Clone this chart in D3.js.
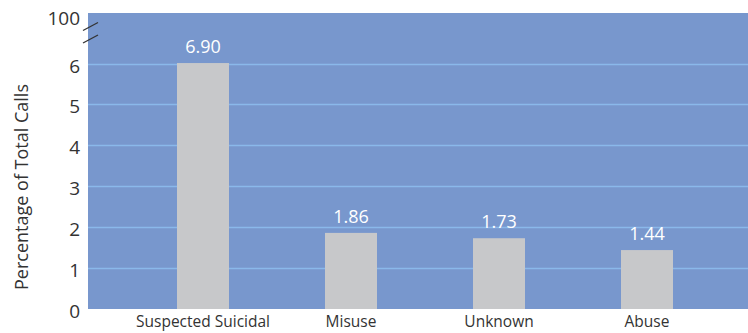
<!DOCTYPE html>
<html>
<head>
<meta charset="utf-8">
<script src="https://cdn.jsdelivr.net/npm/d3@7"></script>
<style>
  html, body { margin: 0; padding: 0; background: #fff; }
  svg { display: block; }
</style>
</head>
<body>
<svg id="chart" width="748" height="333"></svg>
<script>
// Share of total calls by call reason (percent)
const categories = ["Suspected Suicidal", "Misuse", "Unknown", "Abuse"];
const values = [6.90, 1.86, 1.73, 1.44];
const valueLabels = ["6.90", "1.86", "1.73", "1.44"];
const tickValues = [0, 1, 2, 3, 4, 5, 6, 100];
const yTitle = "Percentage of Total Calls";

const FONT = "'Open Sans', 'Noto Sans', sans-serif";
const svg = d3.select("#chart").attr("font-family", FONT);
const plot = { left: 88, right: 748, top: 13, bottom: 309 };

// Broken value axis: 0–6 linear, then a compressed jump up to 100
const y = d3.scaleLinear()
  .domain([0, 6, 100])
  .range([plot.bottom, 63.5, 16]);

const x = d3.scaleBand()
  .domain(categories)
  .range([129, 721])
  .paddingInner(0.6486)
  .paddingOuter(0.3243);

// Plot background
svg.append("rect")
  .attr("x", plot.left).attr("y", plot.top)
  .attr("width", plot.right - plot.left)
  .attr("height", plot.bottom - plot.top)
  .attr("fill", "#7897cd");

// Gridlines (skip the baseline and the broken 100 tick)
svg.append("g")
  .selectAll("line")
  .data(tickValues.filter(d => d > 0 && d <= 6))
  .join("line")
  .attr("x1", plot.left).attr("x2", plot.right)
  .attr("y1", d => Math.round(y(d)) + 0.5)
  .attr("y2", d => Math.round(y(d)) + 0.5)
  .attr("stroke", "#8ab8ea")
  .attr("stroke-width", 1.5);

// Y axis tick labels
const yAxis = d3.axisLeft(y)
  .tickValues(tickValues)
  .tickSize(0)
  .tickPadding(8)
  .tickFormat(d3.format("d"));

const gy = svg.append("g")
  .attr("transform", `translate(${plot.left},0)`)
  .call(yAxis)
  .attr("font-family", FONT)
  .attr("font-size", 19);
gy.select(".domain").remove();
gy.selectAll("text")
  .attr("fill", "#333")
  .attr("dy", "0.45em");

// Axis break marks
const breaks = [30.5, 43];
svg.append("g")
  .selectAll("line")
  .data(breaks)
  .join("line")
  .attr("x1", plot.left - 5).attr("x2", plot.left + 10)
  .attr("y1", d => d).attr("y2", d => d - 8)
  .attr("stroke", "#333")
  .attr("stroke-width", 1.3);

// Bars
svg.append("g")
  .selectAll("rect")
  .data(categories)
  .join("rect")
  .attr("x", d => x(d))
  .attr("width", x.bandwidth())
  .attr("y", (d, i) => y(values[i]))
  .attr("height", (d, i) => y(0) - y(values[i]))
  .attr("fill", "#c7c8ca");

// Value labels
svg.append("g")
  .selectAll("text")
  .data(categories)
  .join("text")
  .attr("x", d => x(d) + x.bandwidth() / 2)
  .attr("y", (d, i) => y(values[i]) - 10)
  .attr("text-anchor", "middle")
  .attr("fill", "#fff")
  .attr("font-size", 18)
  .text((d, i) => valueLabels[i]);

// X axis category labels
const xAxis = d3.axisBottom(x).tickSize(0).tickPadding(7);
const gx = svg.append("g")
  .attr("transform", `translate(0,${plot.bottom})`)
  .call(xAxis)
  .attr("font-family", FONT)
  .attr("font-size", 15.5);
gx.select(".domain").remove();
gx.selectAll("text").attr("fill", "#333");

// Y axis title
svg.append("text")
  .attr("transform", `translate(28,187) rotate(-90)`)
  .attr("text-anchor", "middle")
  .attr("fill", "#333")
  .attr("font-size", 18)
  .text(yTitle);
</script>
</body>
</html>
